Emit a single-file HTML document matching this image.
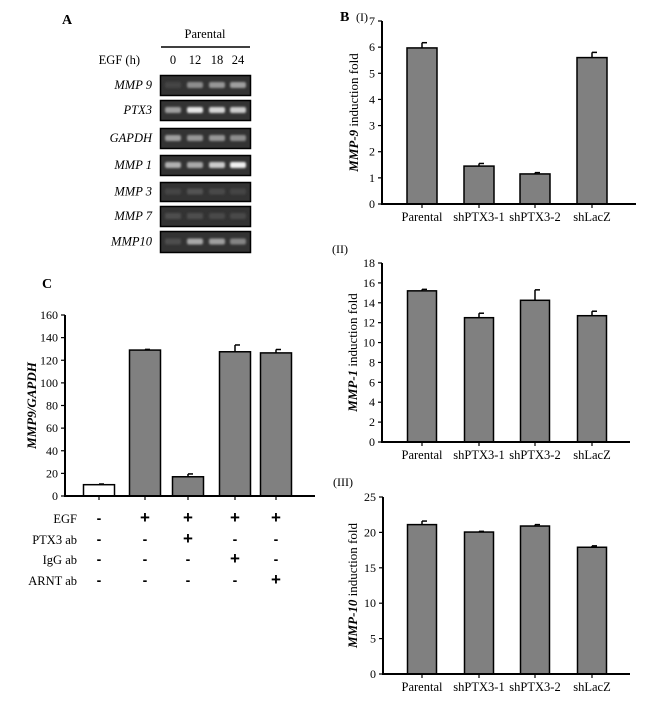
<!DOCTYPE html>
<html><head><meta charset="utf-8"><style>
body{margin:0;background:#fff;}
svg{display:block;font-family:"Liberation Serif",serif;}
</style></head><body>
<svg id="fig" width="650" height="706" viewBox="0 0 650 706" xmlns="http://www.w3.org/2000/svg">
<defs><filter id="blur" x="-50%" y="-50%" width="200%" height="200%"><feGaussianBlur stdDeviation="1.1"/></filter></defs>
<text x="62" y="24" font-weight="bold" font-size="14">A</text>
<text x="340" y="21" font-weight="bold" font-size="14">B</text>
<text x="356" y="21" font-size="12">(I)</text>
<text x="332" y="253" font-size="12">(II)</text>
<text x="333" y="486" font-size="12">(III)</text>
<text x="42" y="288" font-weight="bold" font-size="14">C</text>
<g id="gel">
<text x="205" y="38" text-anchor="middle" font-size="12.5">Parental</text>
<line x1="161" y1="47" x2="250" y2="47" stroke="#000" stroke-width="1.5"/>
<text x="140" y="64" text-anchor="end" font-size="12.5">EGF (h)</text>
</g>
<g id="charts"></g>
</svg>
<script>
// Gel data
const gelLanes = ["0","12","18","24"];
const gelGenes = ["MMP 9","PTX3","GAPDH","MMP 1","MMP 3","MMP 7","MMP10"];
const gelIntensity = [[0.05,0.45,0.5,0.55],[0.55,0.95,0.85,0.8],[0.55,0.5,0.5,0.45],[0.65,0.6,0.8,1.0],[0.05,0.12,0.08,0.05],[0.1,0.1,0.08,0.08],[0.1,0.6,0.55,0.4]];
// Chart B data
const bCats = ["Parental","shPTX3-1","shPTX3-2","shLacZ"];
const b1Vals = [5.97,1.45,1.15,5.6];
const b1Err = [0.2,0.1,0.05,0.2];
const b1Ticks = [0,1,2,3,4,5,6,7];
const b2Vals = [15.2,12.5,14.25,12.7];
const b2Err = [0.15,0.45,1.05,0.45];
const b2Ticks = [0,2,4,6,8,10,12,14,16,18];
const b3Vals = [21.1,20.05,20.9,17.9];
const b3Err = [0.5,0.1,0.2,0.2];
const b3Ticks = [0,5,10,15,20,25];
// Chart C data
const cVals = [10,129,17,127.5,126.5];
const cErr = [0.6,0.6,2.5,6,3];
const cTicks = [0,20,40,60,80,100,120,140,160];
const cRowLabels = ["EGF","PTX3 ab","IgG ab","ARNT ab"];
const cSigns = [["-","+","+","+","+"],["-","-","+","-","-"],["-","-","-","+","-"],["-","-","-","-","+"]];

const NS="http://www.w3.org/2000/svg";
const fig=document.getElementById('fig');
function mk(tag,attrs,parent,txt){const e=document.createElementNS(NS,tag);for(const k in attrs)e.setAttribute(k,attrs[k]);if(txt!==undefined)e.textContent=txt;(parent||fig).appendChild(e);return e;}

// Gel
const gel=document.getElementById('gel');
const laneX=[173,195,217,238];
const rowY=[[75,95],[100,120],[128,148],[155,175],[182,201],[206,226],[231,252]];
gelLanes.forEach((l,i)=>{const t=mk('text',{x:laneX[i],y:64,'text-anchor':'middle','font-size':12.5},gel,l);

});
gelGenes.forEach((g,r)=>{
 const [y0,y1]=rowY[r];
 const t=mk('text',{x:152,y:(y0+y1)/2+4,'text-anchor':'end','font-size':12.5,'font-style':'italic'},gel,g);
 
 
 const box=mk('rect',{x:160.5,y:y0+0.5,width:90,height:y1-y0,fill:'#333',stroke:'#000','stroke-width':1.5},gel);
 
 
 gelIntensity[r].forEach((v,i)=>{
  const c=Math.round(60+180*v);
  const b=mk('rect',{x:laneX[i]-8,y:(y0+y1)/2-3,width:16,height:6,rx:2,fill:`rgb(${c},${c},${c})`,filter:'url(#blur)'},gel);
  
  
 });
});

const charts=document.getElementById('charts');
function barChart(o){
 const g=mk('g',{},charts);
 
 
 const max=o.ticks[o.ticks.length-1];
 const y=v=>o.y0-(o.y0-o.yTop)*v/max;
 o.vals.forEach((v,i)=>{
  const cx=o.centers[i];
  const e=mk('line',{x1:cx,x2:cx,y1:y(v),y2:y(v+o.err[i]),stroke:'#000','stroke-width':1.5},g);
  
  
  const ec=mk('line',{x1:cx,x2:cx+5,y1:y(v+o.err[i]),y2:y(v+o.err[i]),stroke:'#000','stroke-width':1.5},g);
  
  
  const r=mk('rect',{x:cx-o.bw/2,y:y(v),width:o.bw,height:o.y0-y(v),fill:(o.fills?o.fills[i]:'#808080'),stroke:'#000','stroke-width':1.5},g);
  
  
  const tk=mk('line',{x1:cx,x2:cx,y1:o.y0,y2:o.y0+4,stroke:'#000','stroke-width':1.2},g);
  
  
  if(o.cats){const t=mk('text',{x:cx,y:o.y0+17,'text-anchor':'middle','font-size':12.5},g,o.cats[i]);
  
  }
 });
 o.ticks.forEach(tv=>{
  const tl=mk('line',{x1:o.x0-4,x2:o.x0,y1:y(tv),y2:y(tv),stroke:'#000','stroke-width':1.2},g);
  
  
  const t=mk('text',{x:o.x0-7,y:y(tv)+4,'text-anchor':'end','font-size':12},g,tv);
  
  
 });
 const ax=mk('path',{d:`M${o.x0},${o.yTop} V${o.y0} H${o.xEnd}`,fill:'none',stroke:'#000','stroke-width':2},g);
 
 
 const ty=(o.y0+o.yTop)/2;
 const tt=mk('text',{x:o.titleX,y:ty,'text-anchor':'middle','font-size':13,transform:`rotate(-90 ${o.titleX} ${ty})`},g);
 
 
 mk('tspan',{'font-weight':'bold','font-style':'italic'},tt,o.titleI);
 mk('tspan',{},tt,o.titleR);
}
const bCenters=[422,479,535,592];
barChart({name:'chart-b1-mmp9',vals:b1Vals,err:b1Err,ticks:b1Ticks,cats:bCats,centers:bCenters,bw:30,x0:382,xEnd:636,y0:204,yTop:21,titleX:358,titleI:'MMP-9',titleR:' induction fold'});
barChart({name:'chart-b2-mmp1',vals:b2Vals,err:b2Err,ticks:b2Ticks,cats:bCats,centers:bCenters,bw:29,x0:382,xEnd:630,y0:442,yTop:263,titleX:357,titleI:'MMP-1',titleR:' induction fold'});
barChart({name:'chart-b3-mmp10',vals:b3Vals,err:b3Err,ticks:b3Ticks,cats:bCats,centers:bCenters,bw:29,x0:383,xEnd:630,y0:674,yTop:497,titleX:357,titleI:'MMP-10',titleR:' induction fold'});
const cCenters=[99,145,188,235,276];
barChart({name:'chart-c-mmp9-gapdh',vals:cVals,err:cErr,ticks:cTicks,centers:cCenters,bw:31,fills:['#fff','#808080','#808080','#808080','#808080'],x0:65,xEnd:315,y0:496,yTop:315,titleX:36,titleI:'MMP9/GAPDH',titleR:''});
const rowsY=[523,544,564,585];
cRowLabels.forEach((lab,r)=>{
 const t=mk('text',{x:77,y:rowsY[r],'text-anchor':'end','font-size':12.5},charts,lab);
 
 
 cSigns[r].forEach((s,i)=>{
  const st=mk('text',{x:cCenters[i],y:rowsY[r],'text-anchor':'middle','font-size':s==='+'?17:14,'font-weight':'bold','font-family':'Liberation Sans, sans-serif'},charts,s);
  
  
 });
});
</script>
</body></html>
